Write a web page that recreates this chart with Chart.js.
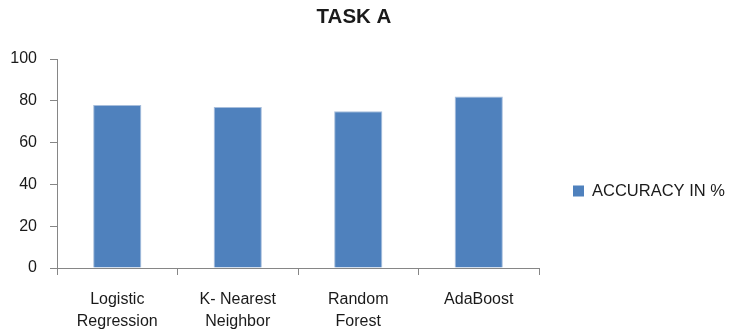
<!DOCTYPE html>
<html>
<head>
<meta charset="utf-8">
<script src="https://cdn.jsdelivr.net/npm/chart.js@4"></script>
<style>
  html, body { margin: 0; padding: 0; background: #ffffff; }
  #wrap { width: 730px; height: 335px; }
</style>
</head>
<body>
<div id="wrap"><canvas id="c" width="730" height="335"></canvas></div>
<script>
// Classifier accuracy for task A
const models = [["Logistic", "Regression"], ["K- Nearest", "Neighbor"], ["Random", "Forest"], "AdaBoost"];
const accuracy = [78, 77, 75, 82];
const seriesName = "ACCURACY IN %";
const chartTitle = "TASK A";
const yTicks = [0, 20, 40, 60, 80, 100];

const FONT = "'Liberation Sans', Arial, sans-serif";
const AXIS_GREY = "#868686";
const TEXT = "#1a1a1a";

// Title centred over the whole figure and a single-entry legend beside the plot
const frameText = {
  id: "frameText",
  afterDraw(chart, args, opts) {
    const ctx = chart.ctx;
    const ds = chart.data.datasets[0];
    ctx.save();
    ctx.fillStyle = TEXT;
    ctx.font = opts.titleFont;
    ctx.textAlign = "center";
    ctx.textBaseline = "middle";
    ctx.fillText(opts.title, opts.titleX, opts.titleY);

    ctx.fillStyle = ds.backgroundColor;
    ctx.fillRect(opts.legendX, opts.legendY - 5.5, 11, 11);
    ctx.fillStyle = TEXT;
    ctx.font = opts.legendFont;
    ctx.textAlign = "left";
    ctx.fillText(ds.label, opts.legendX + 19, opts.legendY + 0.5);
    ctx.restore();
  }
};

new Chart(document.getElementById("c"), {
  type: "bar",
  data: {
    labels: models,
    datasets: [{
      label: seriesName,
      data: accuracy,
      backgroundColor: "#4f81bd",
      borderColor: "#a7bedc",
      borderWidth: 1,
      barPercentage: 0.4,
      categoryPercentage: 1.0
    }]
  },
  plugins: [frameText],
  options: {
    responsive: false,
    animation: false,
    layout: { padding: { left: 0, right: 191, top: 59, bottom: 0 } },
    plugins: {
      title: { display: false },
      legend: { display: false },
      tooltip: { enabled: false },
      frameText: {
        title: chartTitle,
        titleX: 354,
        titleY: 17,
        titleFont: "bold 20.5px " + FONT,
        legendX: 573,
        legendY: 191,
        legendFont: "16.5px " + FONT
      }
    },
    scales: {
      x: {
        afterFit: (axis) => { axis.height = 67; },
        grid: {
          display: true,
          drawOnChartArea: false,
          drawTicks: true,
          tickLength: 7,
          color: AXIS_GREY,
          offset: true
        },
        border: { display: true, color: AXIS_GREY, width: 1 },
        ticks: {
          color: TEXT,
          font: { family: FONT, size: 16, lineHeight: 1.42 },
          maxRotation: 0,
          padding: 13
        }
      },
      y: {
        min: 0,
        max: 100,
        afterBuildTicks: (axis) => { axis.ticks = yTicks.map(v => ({ value: v })); },
        afterFit: (axis) => { axis.width = 57; },
        grid: {
          display: true,
          drawOnChartArea: false,
          drawTicks: true,
          tickLength: 7,
          color: AXIS_GREY
        },
        border: { display: true, color: AXIS_GREY, width: 1 },
        ticks: {
          color: TEXT,
          font: { family: FONT, size: 16 },
          padding: 13
        }
      }
    }
  }
});
</script>
</body>
</html>
